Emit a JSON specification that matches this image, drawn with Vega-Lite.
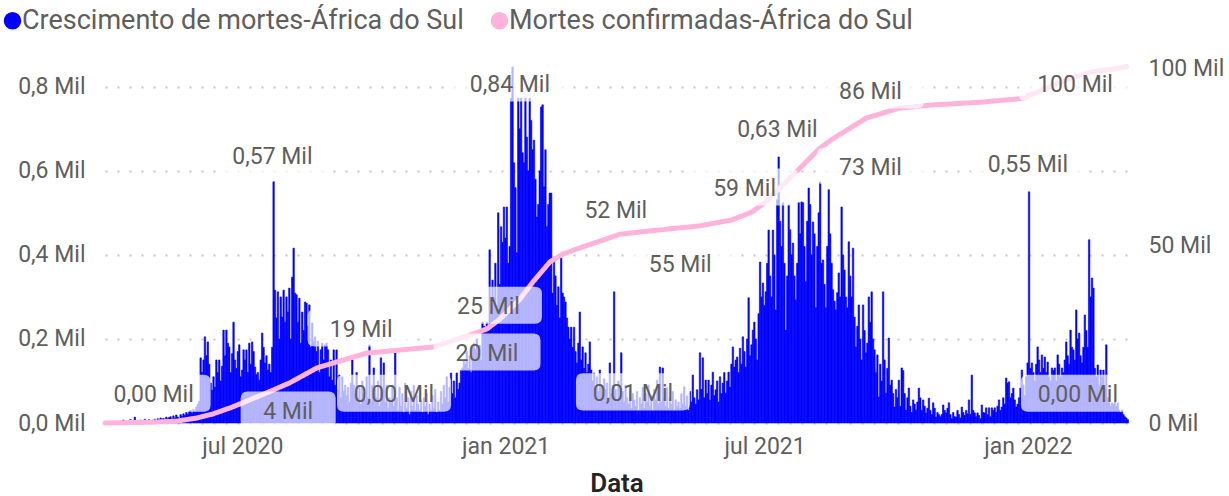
{
"$schema":"https://vega.github.io/schema/vega-lite/v6.json",
"width":1023,"height":356,
"autosize":{"type":"none"},
"padding":{"left":105,"top":67,"right":101,"bottom":73},
"background":"white",
"config":{"view":{"stroke":null},"font":"Roboto","axis":{"labelFont":"Roboto","titleFont":"Roboto"}},
"datasets":{
"daily":[
{"d":"2020-03-27","v":1,"c":1},{"d":"2020-03-28","v":0,"c":7},{"d":"2020-03-29","v":1,"c":13},{"d":"2020-03-30","v":2,"c":20},{"d":"2020-03-31","v":0,"c":27},
{"d":"2020-04-01","v":3,"c":33},{"d":"2020-04-02","v":2,"c":40},{"d":"2020-04-03","v":1,"c":47},{"d":"2020-04-04","v":4,"c":53},{"d":"2020-04-05","v":2,"c":60},{"d":"2020-04-06","v":5,"c":67},{"d":"2020-04-07","v":1,"c":73},{"d":"2020-04-08","v":7,"c":80},{"d":"2020-04-09","v":3,"c":87},{"d":"2020-04-10","v":4,"c":93},{"d":"2020-04-11","v":2,"c":100},{"d":"2020-04-12","v":6,"c":107},{"d":"2020-04-13","v":8,"c":113},{"d":"2020-04-14","v":3,"c":120},{"d":"2020-04-15","v":5,"c":127},{"d":"2020-04-16","v":14,"c":133},{"d":"2020-04-17","v":4,"c":140},{"d":"2020-04-18","v":2,"c":147},{"d":"2020-04-19","v":6,"c":153},{"d":"2020-04-20","v":7,"c":160},{"d":"2020-04-21","v":3,"c":167},{"d":"2020-04-22","v":5,"c":173},{"d":"2020-04-23","v":9,"c":180},{"d":"2020-04-24","v":4,"c":187},{"d":"2020-04-25","v":6,"c":193},{"d":"2020-04-26","v":8,"c":200},{"d":"2020-04-27","v":5,"c":215},{"d":"2020-04-28","v":3,"c":230},{"d":"2020-04-29","v":7,"c":245},{"d":"2020-04-30","v":9,"c":260},
{"d":"2020-05-01","v":6,"c":275},{"d":"2020-05-02","v":10,"c":290},{"d":"2020-05-03","v":8,"c":305},{"d":"2020-05-04","v":12,"c":320},{"d":"2020-05-05","v":9,"c":335},{"d":"2020-05-06","v":11,"c":350},{"d":"2020-05-07","v":7,"c":365},{"d":"2020-05-08","v":14,"c":380},{"d":"2020-05-09","v":10,"c":395},{"d":"2020-05-10","v":13,"c":410},{"d":"2020-05-11","v":15,"c":425},{"d":"2020-05-12","v":9,"c":440},{"d":"2020-05-13","v":17,"c":455},{"d":"2020-05-14","v":12,"c":470},{"d":"2020-05-15","v":19,"c":485},{"d":"2020-05-16","v":14,"c":500},{"d":"2020-05-17","v":11,"c":564},{"d":"2020-05-18","v":20,"c":629},{"d":"2020-05-19","v":16,"c":693},{"d":"2020-05-20","v":22,"c":757},{"d":"2020-05-21","v":18,"c":821},{"d":"2020-05-22","v":25,"c":886},{"d":"2020-05-23","v":21,"c":950},{"d":"2020-05-24","v":28,"c":1014},{"d":"2020-05-25","v":30,"c":1079},{"d":"2020-05-26","v":24,"c":1143},{"d":"2020-05-27","v":33,"c":1207},{"d":"2020-05-28","v":27,"c":1271},{"d":"2020-05-29","v":38,"c":1336},{"d":"2020-05-30","v":45,"c":1400},{"d":"2020-05-31","v":52,"c":1500},
{"d":"2020-06-01","v":155,"c":1600},{"d":"2020-06-02","v":120,"c":1700},{"d":"2020-06-03","v":150,"c":1800},{"d":"2020-06-04","v":205,"c":1900},{"d":"2020-06-05","v":160,"c":2000},{"d":"2020-06-06","v":193,"c":2100},{"d":"2020-06-07","v":140,"c":2200},{"d":"2020-06-08","v":95,"c":2300},{"d":"2020-06-09","v":78,"c":2400},{"d":"2020-06-10","v":110,"c":2500},{"d":"2020-06-11","v":85,"c":2643},{"d":"2020-06-12","v":150,"c":2786},{"d":"2020-06-13","v":120,"c":2929},{"d":"2020-06-14","v":150,"c":3071},{"d":"2020-06-15","v":100,"c":3214},{"d":"2020-06-16","v":135,"c":3357},{"d":"2020-06-17","v":221,"c":3500},{"d":"2020-06-18","v":160,"c":3643},{"d":"2020-06-19","v":221,"c":3786},{"d":"2020-06-20","v":190,"c":3929},{"d":"2020-06-21","v":181,"c":4071},{"d":"2020-06-22","v":120,"c":4214},{"d":"2020-06-23","v":165,"c":4357},{"d":"2020-06-24","v":240,"c":4500},{"d":"2020-06-25","v":150,"c":4667},{"d":"2020-06-26","v":130,"c":4833},{"d":"2020-06-27","v":170,"c":5000},{"d":"2020-06-28","v":186,"c":5167},{"d":"2020-06-29","v":110,"c":5333},{"d":"2020-06-30","v":126,"c":5500},
{"d":"2020-07-01","v":174,"c":5667},{"d":"2020-07-02","v":150,"c":5833},{"d":"2020-07-03","v":174,"c":6000},{"d":"2020-07-04","v":120,"c":6167},{"d":"2020-07-05","v":190,"c":6333},{"d":"2020-07-06","v":140,"c":6500},{"d":"2020-07-07","v":193,"c":6667},{"d":"2020-07-08","v":170,"c":6833},{"d":"2020-07-09","v":133,"c":7000},{"d":"2020-07-10","v":115,"c":7167},{"d":"2020-07-11","v":120,"c":7333},{"d":"2020-07-12","v":102,"c":7500},{"d":"2020-07-13","v":150,"c":7667},{"d":"2020-07-14","v":214,"c":7833},{"d":"2020-07-15","v":180,"c":8000},{"d":"2020-07-16","v":143,"c":8167},{"d":"2020-07-17","v":160,"c":8333},{"d":"2020-07-18","v":126,"c":8500},{"d":"2020-07-19","v":140,"c":8675},{"d":"2020-07-20","v":120,"c":8850},{"d":"2020-07-21","v":180,"c":9025},{"d":"2020-07-22","v":574,"c":9200},{"d":"2020-07-23","v":316,"c":9375},{"d":"2020-07-24","v":250,"c":9550},{"d":"2020-07-25","v":312,"c":9725},{"d":"2020-07-26","v":200,"c":9900},{"d":"2020-07-27","v":300,"c":10075},{"d":"2020-07-28","v":252,"c":10250},{"d":"2020-07-29","v":316,"c":10425},{"d":"2020-07-30","v":240,"c":10600},{"d":"2020-07-31","v":300,"c":10775},
{"d":"2020-08-01","v":264,"c":10950},{"d":"2020-08-02","v":321,"c":11125},{"d":"2020-08-03","v":200,"c":11300},{"d":"2020-08-04","v":347,"c":11521},{"d":"2020-08-05","v":416,"c":11742},{"d":"2020-08-06","v":309,"c":11963},{"d":"2020-08-07","v":305,"c":12184},{"d":"2020-08-08","v":240,"c":12405},{"d":"2020-08-09","v":297,"c":12626},{"d":"2020-08-10","v":190,"c":12847},{"d":"2020-08-11","v":264,"c":13068},{"d":"2020-08-12","v":220,"c":13289},{"d":"2020-08-13","v":288,"c":13511},{"d":"2020-08-14","v":285,"c":13732},{"d":"2020-08-15","v":230,"c":13953},{"d":"2020-08-16","v":281,"c":14174},{"d":"2020-08-17","v":180,"c":14395},{"d":"2020-08-18","v":238,"c":14616},{"d":"2020-08-19","v":193,"c":14837},{"d":"2020-08-20","v":205,"c":15058},{"d":"2020-08-21","v":170,"c":15279},{"d":"2020-08-22","v":195,"c":15500},{"d":"2020-08-23","v":120,"c":15621},{"d":"2020-08-24","v":174,"c":15743},{"d":"2020-08-25","v":190,"c":15864},{"d":"2020-08-26","v":150,"c":15986},{"d":"2020-08-27","v":186,"c":16107},{"d":"2020-08-28","v":190,"c":16229},{"d":"2020-08-29","v":174,"c":16350},{"d":"2020-08-30","v":110,"c":16471},{"d":"2020-08-31","v":150,"c":16593},
{"d":"2020-09-01","v":102,"c":16714},{"d":"2020-09-02","v":174,"c":16836},{"d":"2020-09-03","v":90,"c":16957},{"d":"2020-09-04","v":174,"c":17079},{"d":"2020-09-05","v":80,"c":17200},{"d":"2020-09-06","v":114,"c":17319},{"d":"2020-09-07","v":60,"c":17438},{"d":"2020-09-08","v":110,"c":17557},{"d":"2020-09-09","v":75,"c":17676},{"d":"2020-09-10","v":90,"c":17795},{"d":"2020-09-11","v":65,"c":17914},{"d":"2020-09-12","v":85,"c":18033},{"d":"2020-09-13","v":50,"c":18152},{"d":"2020-09-14","v":95,"c":18271},{"d":"2020-09-15","v":150,"c":18390},{"d":"2020-09-16","v":90,"c":18510},{"d":"2020-09-17","v":70,"c":18629},{"d":"2020-09-18","v":120,"c":18748},{"d":"2020-09-19","v":60,"c":18867},{"d":"2020-09-20","v":85,"c":18986},{"d":"2020-09-21","v":45,"c":19105},{"d":"2020-09-22","v":100,"c":19224},{"d":"2020-09-23","v":70,"c":19343},{"d":"2020-09-24","v":55,"c":19462},{"d":"2020-09-25","v":110,"c":19581},{"d":"2020-09-26","v":60,"c":19700},{"d":"2020-09-27","v":186,"c":19737},{"d":"2020-09-28","v":50,"c":19774},{"d":"2020-09-29","v":90,"c":19811},{"d":"2020-09-30","v":131,"c":19848},
{"d":"2020-10-01","v":80,"c":19885},{"d":"2020-10-02","v":60,"c":19922},{"d":"2020-10-03","v":100,"c":19959},{"d":"2020-10-04","v":40,"c":19996},{"d":"2020-10-05","v":155,"c":20033},{"d":"2020-10-06","v":70,"c":20070},{"d":"2020-10-07","v":143,"c":20107},{"d":"2020-10-08","v":50,"c":20144},{"d":"2020-10-09","v":90,"c":20181},{"d":"2020-10-10","v":35,"c":20218},{"d":"2020-10-11","v":60,"c":20255},{"d":"2020-10-12","v":50,"c":20292},{"d":"2020-10-13","v":90,"c":20329},{"d":"2020-10-14","v":40,"c":20366},{"d":"2020-10-15","v":167,"c":20403},{"d":"2020-10-16","v":60,"c":20440},{"d":"2020-10-17","v":30,"c":20477},{"d":"2020-10-18","v":85,"c":20514},{"d":"2020-10-19","v":40,"c":20551},{"d":"2020-10-20","v":70,"c":20588},{"d":"2020-10-21","v":25,"c":20625},{"d":"2020-10-22","v":95,"c":20662},{"d":"2020-10-23","v":35,"c":20699},{"d":"2020-10-24","v":60,"c":20736},{"d":"2020-10-25","v":20,"c":20773},{"d":"2020-10-26","v":75,"c":20810},{"d":"2020-10-27","v":40,"c":20847},{"d":"2020-10-28","v":90,"c":20884},{"d":"2020-10-29","v":30,"c":20921},{"d":"2020-10-30","v":65,"c":20958},{"d":"2020-10-31","v":45,"c":20995},
{"d":"2020-11-01","v":30,"c":21032},{"d":"2020-11-02","v":55,"c":21069},{"d":"2020-11-03","v":25,"c":21106},{"d":"2020-11-04","v":60,"c":21143},{"d":"2020-11-05","v":40,"c":21180},{"d":"2020-11-06","v":70,"c":21217},{"d":"2020-11-07","v":20,"c":21254},{"d":"2020-11-08","v":45,"c":21291},{"d":"2020-11-09","v":30,"c":21328},{"d":"2020-11-10","v":65,"c":21365},{"d":"2020-11-11","v":35,"c":21400},{"d":"2020-11-12","v":80,"c":21529},{"d":"2020-11-13","v":25,"c":21658},{"d":"2020-11-14","v":50,"c":21788},{"d":"2020-11-15","v":30,"c":21917},{"d":"2020-11-16","v":75,"c":22046},{"d":"2020-11-17","v":45,"c":22175},{"d":"2020-11-18","v":90,"c":22304},{"d":"2020-11-19","v":60,"c":22433},{"d":"2020-11-20","v":110,"c":22563},{"d":"2020-11-21","v":50,"c":22692},{"d":"2020-11-22","v":85,"c":22821},{"d":"2020-11-23","v":119,"c":22950},{"d":"2020-11-24","v":70,"c":23079},{"d":"2020-11-25","v":100,"c":23208},{"d":"2020-11-26","v":60,"c":23338},{"d":"2020-11-27","v":119,"c":23467},{"d":"2020-11-28","v":80,"c":23596},{"d":"2020-11-29","v":95,"c":23725},{"d":"2020-11-30","v":126,"c":23854},
{"d":"2020-12-01","v":131,"c":23983},{"d":"2020-12-02","v":150,"c":24113},{"d":"2020-12-03","v":140,"c":24242},{"d":"2020-12-04","v":170,"c":24371},{"d":"2020-12-05","v":130,"c":24500},{"d":"2020-12-06","v":160,"c":24643},{"d":"2020-12-07","v":120,"c":24786},{"d":"2020-12-08","v":180,"c":24929},{"d":"2020-12-09","v":190,"c":25071},{"d":"2020-12-10","v":175,"c":25214},{"d":"2020-12-11","v":200,"c":25357},{"d":"2020-12-12","v":165,"c":25500},{"d":"2020-12-13","v":185,"c":25643},{"d":"2020-12-14","v":150,"c":25786},{"d":"2020-12-15","v":240,"c":25929},{"d":"2020-12-16","v":230,"c":26071},{"d":"2020-12-17","v":215,"c":26214},{"d":"2020-12-18","v":240,"c":26357},{"d":"2020-12-19","v":220,"c":26500},{"d":"2020-12-20","v":412,"c":26811},{"d":"2020-12-21","v":260,"c":27122},{"d":"2020-12-22","v":340,"c":27433},{"d":"2020-12-23","v":300,"c":27744},{"d":"2020-12-24","v":380,"c":28056},{"d":"2020-12-25","v":280,"c":28367},{"d":"2020-12-26","v":500,"c":28678},{"d":"2020-12-27","v":330,"c":28989},{"d":"2020-12-28","v":467,"c":29300},{"d":"2020-12-29","v":430,"c":29700},{"d":"2020-12-30","v":514,"c":30100},{"d":"2020-12-31","v":440,"c":30500},
{"d":"2021-01-01","v":514,"c":30900},{"d":"2021-01-02","v":380,"c":31300},{"d":"2021-01-03","v":420,"c":31700},{"d":"2021-01-04","v":773,"c":32100},{"d":"2021-01-05","v":847,"c":32500},{"d":"2021-01-06","v":619,"c":32900},{"d":"2021-01-07","v":560,"c":33300},{"d":"2021-01-08","v":405,"c":33700},{"d":"2021-01-09","v":773,"c":34100},{"d":"2021-01-10","v":700,"c":34500},{"d":"2021-01-11","v":773,"c":34900},{"d":"2021-01-12","v":643,"c":35433},{"d":"2021-01-13","v":619,"c":35967},{"d":"2021-01-14","v":773,"c":36500},{"d":"2021-01-15","v":680,"c":37033},{"d":"2021-01-16","v":600,"c":37567},{"d":"2021-01-17","v":773,"c":38100},{"d":"2021-01-18","v":720,"c":38633},{"d":"2021-01-19","v":650,"c":39167},{"d":"2021-01-20","v":673,"c":39700},{"d":"2021-01-21","v":580,"c":40175},{"d":"2021-01-22","v":490,"c":40650},{"d":"2021-01-23","v":520,"c":41125},{"d":"2021-01-24","v":600,"c":41600},{"d":"2021-01-25","v":752,"c":42075},{"d":"2021-01-26","v":757,"c":42550},{"d":"2021-01-27","v":562,"c":43025},{"d":"2021-01-28","v":650,"c":43500},{"d":"2021-01-29","v":467,"c":43975},{"d":"2021-01-30","v":520,"c":44450},{"d":"2021-01-31","v":547,"c":44925},
{"d":"2021-02-01","v":547,"c":45400},{"d":"2021-02-02","v":309,"c":45644},{"d":"2021-02-03","v":395,"c":45889},{"d":"2021-02-04","v":350,"c":46133},{"d":"2021-02-05","v":280,"c":46378},{"d":"2021-02-06","v":324,"c":46622},{"d":"2021-02-07","v":250,"c":46867},{"d":"2021-02-08","v":393,"c":47111},{"d":"2021-02-09","v":309,"c":47356},{"d":"2021-02-10","v":300,"c":47600},{"d":"2021-02-11","v":288,"c":47744},{"d":"2021-02-12","v":250,"c":47888},{"d":"2021-02-13","v":228,"c":48031},{"d":"2021-02-14","v":200,"c":48175},{"d":"2021-02-15","v":228,"c":48319},{"d":"2021-02-16","v":180,"c":48463},{"d":"2021-02-17","v":228,"c":48606},{"d":"2021-02-18","v":170,"c":48750},{"d":"2021-02-19","v":143,"c":48894},{"d":"2021-02-20","v":190,"c":49038},{"d":"2021-02-21","v":264,"c":49181},{"d":"2021-02-22","v":150,"c":49325},{"d":"2021-02-23","v":181,"c":49469},{"d":"2021-02-24","v":130,"c":49613},{"d":"2021-02-25","v":167,"c":49756},{"d":"2021-02-26","v":120,"c":49900},{"d":"2021-02-27","v":140,"c":50038},{"d":"2021-02-28","v":193,"c":50175},
{"d":"2021-03-01","v":126,"c":50313},{"d":"2021-03-02","v":100,"c":50450},{"d":"2021-03-03","v":119,"c":50588},{"d":"2021-03-04","v":85,"c":50725},{"d":"2021-03-05","v":110,"c":50863},{"d":"2021-03-06","v":75,"c":51000},{"d":"2021-03-07","v":126,"c":51138},{"d":"2021-03-08","v":90,"c":51275},{"d":"2021-03-09","v":71,"c":51413},{"d":"2021-03-10","v":105,"c":51550},{"d":"2021-03-11","v":80,"c":51688},{"d":"2021-03-12","v":95,"c":51825},{"d":"2021-03-13","v":60,"c":51963},{"d":"2021-03-14","v":143,"c":52100},{"d":"2021-03-15","v":70,"c":52238},{"d":"2021-03-16","v":90,"c":52375},{"d":"2021-03-17","v":312,"c":52513},{"d":"2021-03-18","v":80,"c":52650},{"d":"2021-03-19","v":55,"c":52788},{"d":"2021-03-20","v":100,"c":52925},{"d":"2021-03-21","v":65,"c":53063},{"d":"2021-03-22","v":167,"c":53200},{"d":"2021-03-23","v":75,"c":53244},{"d":"2021-03-24","v":50,"c":53288},{"d":"2021-03-25","v":90,"c":53331},{"d":"2021-03-26","v":60,"c":53375},{"d":"2021-03-27","v":45,"c":53419},{"d":"2021-03-28","v":80,"c":53463},{"d":"2021-03-29","v":35,"c":53506},{"d":"2021-03-30","v":70,"c":53550},{"d":"2021-03-31","v":55,"c":53594},
{"d":"2021-04-01","v":40,"c":53638},{"d":"2021-04-02","v":75,"c":53681},{"d":"2021-04-03","v":30,"c":53725},{"d":"2021-04-04","v":60,"c":53769},{"d":"2021-04-05","v":45,"c":53813},{"d":"2021-04-06","v":85,"c":53856},{"d":"2021-04-07","v":35,"c":53900},{"d":"2021-04-08","v":70,"c":53944},{"d":"2021-04-09","v":50,"c":53988},{"d":"2021-04-10","v":90,"c":54031},{"d":"2021-04-11","v":40,"c":54075},{"d":"2021-04-12","v":65,"c":54119},{"d":"2021-04-13","v":30,"c":54163},{"d":"2021-04-14","v":80,"c":54206},{"d":"2021-04-15","v":55,"c":54250},{"d":"2021-04-16","v":102,"c":54294},{"d":"2021-04-17","v":45,"c":54338},{"d":"2021-04-18","v":133,"c":54381},{"d":"2021-04-19","v":50,"c":54425},{"d":"2021-04-20","v":131,"c":54469},{"d":"2021-04-21","v":60,"c":54513},{"d":"2021-04-22","v":40,"c":54556},{"d":"2021-04-23","v":85,"c":54600},{"d":"2021-04-24","v":35,"c":54639},{"d":"2021-04-25","v":60,"c":54678},{"d":"2021-04-26","v":45,"c":54717},{"d":"2021-04-27","v":75,"c":54757},{"d":"2021-04-28","v":30,"c":54796},{"d":"2021-04-29","v":55,"c":54835},{"d":"2021-04-30","v":40,"c":54874},
{"d":"2021-05-01","v":50,"c":54913},{"d":"2021-05-02","v":35,"c":54952},{"d":"2021-05-03","v":70,"c":54991},{"d":"2021-05-04","v":45,"c":55030},{"d":"2021-05-05","v":86,"c":55070},{"d":"2021-05-06","v":40,"c":55109},{"d":"2021-05-07","v":65,"c":55148},{"d":"2021-05-08","v":30,"c":55187},{"d":"2021-05-09","v":75,"c":55226},{"d":"2021-05-10","v":50,"c":55265},{"d":"2021-05-11","v":114,"c":55304},{"d":"2021-05-12","v":60,"c":55343},{"d":"2021-05-13","v":45,"c":55383},{"d":"2021-05-14","v":79,"c":55422},{"d":"2021-05-15","v":55,"c":55461},{"d":"2021-05-16","v":167,"c":55500},{"d":"2021-05-17","v":80,"c":55574},{"d":"2021-05-18","v":155,"c":55648},{"d":"2021-05-19","v":60,"c":55722},{"d":"2021-05-20","v":102,"c":55796},{"d":"2021-05-21","v":70,"c":55870},{"d":"2021-05-22","v":102,"c":55943},{"d":"2021-05-23","v":55,"c":56017},{"d":"2021-05-24","v":90,"c":56091},{"d":"2021-05-25","v":121,"c":56165},{"d":"2021-05-26","v":65,"c":56239},{"d":"2021-05-27","v":79,"c":56313},{"d":"2021-05-28","v":100,"c":56387},{"d":"2021-05-29","v":50,"c":56461},{"d":"2021-05-30","v":110,"c":56535},{"d":"2021-05-31","v":70,"c":56609},
{"d":"2021-06-01","v":95,"c":56683},{"d":"2021-06-02","v":120,"c":56757},{"d":"2021-06-03","v":71,"c":56830},{"d":"2021-06-04","v":100,"c":56904},{"d":"2021-06-05","v":121,"c":56978},{"d":"2021-06-06","v":85,"c":57052},{"d":"2021-06-07","v":140,"c":57126},{"d":"2021-06-08","v":181,"c":57200},{"d":"2021-06-09","v":133,"c":57357},{"d":"2021-06-10","v":150,"c":57514},{"d":"2021-06-11","v":157,"c":57671},{"d":"2021-06-12","v":120,"c":57829},{"d":"2021-06-13","v":178,"c":57986},{"d":"2021-06-14","v":140,"c":58143},{"d":"2021-06-15","v":205,"c":58300},{"d":"2021-06-16","v":170,"c":58457},{"d":"2021-06-17","v":133,"c":58614},{"d":"2021-06-18","v":200,"c":58771},{"d":"2021-06-19","v":298,"c":58929},{"d":"2021-06-20","v":160,"c":59086},{"d":"2021-06-21","v":186,"c":59243},{"d":"2021-06-22","v":221,"c":59400},{"d":"2021-06-23","v":240,"c":59690},{"d":"2021-06-24","v":200,"c":59980},{"d":"2021-06-25","v":150,"c":60270},{"d":"2021-06-26","v":260,"c":60560},{"d":"2021-06-27","v":383,"c":60850},{"d":"2021-06-28","v":300,"c":61140},{"d":"2021-06-29","v":333,"c":61430},{"d":"2021-06-30","v":280,"c":61720},
{"d":"2021-07-01","v":312,"c":62010},{"d":"2021-07-02","v":380,"c":62300},{"d":"2021-07-03","v":459,"c":62709},{"d":"2021-07-04","v":350,"c":63118},{"d":"2021-07-05","v":300,"c":63527},{"d":"2021-07-06","v":459,"c":63936},{"d":"2021-07-07","v":400,"c":64345},{"d":"2021-07-08","v":269,"c":64755},{"d":"2021-07-09","v":531,"c":65164},{"d":"2021-07-10","v":633,"c":65573},{"d":"2021-07-11","v":480,"c":65982},{"d":"2021-07-12","v":420,"c":66391},{"d":"2021-07-13","v":524,"c":66800},{"d":"2021-07-14","v":380,"c":67192},{"d":"2021-07-15","v":221,"c":67583},{"d":"2021-07-16","v":350,"c":67975},{"d":"2021-07-17","v":519,"c":68367},{"d":"2021-07-18","v":460,"c":68758},{"d":"2021-07-19","v":400,"c":69150},{"d":"2021-07-20","v":428,"c":69542},{"d":"2021-07-21","v":350,"c":69933},{"d":"2021-07-22","v":293,"c":70325},{"d":"2021-07-23","v":380,"c":70717},{"d":"2021-07-24","v":524,"c":71108},{"d":"2021-07-25","v":450,"c":71500},{"d":"2021-07-26","v":526,"c":71907},{"d":"2021-07-27","v":524,"c":72314},{"d":"2021-07-28","v":420,"c":72721},{"d":"2021-07-29","v":336,"c":73129},{"d":"2021-07-30","v":480,"c":73536},{"d":"2021-07-31","v":559,"c":73943},
{"d":"2021-08-01","v":520,"c":74350},{"d":"2021-08-02","v":400,"c":74757},{"d":"2021-08-03","v":478,"c":75164},{"d":"2021-08-04","v":450,"c":75571},{"d":"2021-08-05","v":274,"c":75979},{"d":"2021-08-06","v":420,"c":76386},{"d":"2021-08-07","v":500,"c":76793},{"d":"2021-08-08","v":574,"c":77200},{"d":"2021-08-09","v":380,"c":77500},{"d":"2021-08-10","v":388,"c":77800},{"d":"2021-08-11","v":330,"c":78100},{"d":"2021-08-12","v":274,"c":78400},{"d":"2021-08-13","v":420,"c":78700},{"d":"2021-08-14","v":555,"c":79000},{"d":"2021-08-15","v":450,"c":79300},{"d":"2021-08-16","v":380,"c":79600},{"d":"2021-08-17","v":317,"c":79900},{"d":"2021-08-18","v":290,"c":80150},{"d":"2021-08-19","v":269,"c":80400},{"d":"2021-08-20","v":310,"c":80650},{"d":"2021-08-21","v":357,"c":80900},{"d":"2021-08-22","v":300,"c":81150},{"d":"2021-08-23","v":514,"c":81400},{"d":"2021-08-24","v":400,"c":81650},{"d":"2021-08-25","v":364,"c":81900},{"d":"2021-08-26","v":300,"c":82150},{"d":"2021-08-27","v":274,"c":82400},{"d":"2021-08-28","v":431,"c":82650},{"d":"2021-08-29","v":350,"c":82900},{"d":"2021-08-30","v":300,"c":83150},{"d":"2021-08-31","v":416,"c":83400},
{"d":"2021-09-01","v":252,"c":83650},{"d":"2021-09-02","v":181,"c":83900},{"d":"2021-09-03","v":230,"c":84150},{"d":"2021-09-04","v":281,"c":84400},{"d":"2021-09-05","v":200,"c":84650},{"d":"2021-09-06","v":150,"c":84900},{"d":"2021-09-07","v":281,"c":85150},{"d":"2021-09-08","v":220,"c":85400},{"d":"2021-09-09","v":167,"c":85650},{"d":"2021-09-10","v":190,"c":85900},{"d":"2021-09-11","v":300,"c":86022},{"d":"2021-09-12","v":240,"c":86143},{"d":"2021-09-13","v":312,"c":86265},{"d":"2021-09-14","v":200,"c":86387},{"d":"2021-09-15","v":174,"c":86509},{"d":"2021-09-16","v":120,"c":86630},{"d":"2021-09-17","v":162,"c":86752},{"d":"2021-09-18","v":62,"c":86874},{"d":"2021-09-19","v":140,"c":86996},{"d":"2021-09-20","v":100,"c":87117},{"d":"2021-09-21","v":312,"c":87239},{"d":"2021-09-22","v":150,"c":87361},{"d":"2021-09-23","v":71,"c":87483},{"d":"2021-09-24","v":130,"c":87604},{"d":"2021-09-25","v":202,"c":87726},{"d":"2021-09-26","v":90,"c":87848},{"d":"2021-09-27","v":102,"c":87970},{"d":"2021-09-28","v":70,"c":88091},{"d":"2021-09-29","v":38,"c":88213},{"d":"2021-09-30","v":80,"c":88335},
{"d":"2021-10-01","v":60,"c":88457},{"d":"2021-10-02","v":102,"c":88578},{"d":"2021-10-03","v":40,"c":88700},{"d":"2021-10-04","v":131,"c":88739},{"d":"2021-10-05","v":125,"c":88778},{"d":"2021-10-06","v":70,"c":88817},{"d":"2021-10-07","v":31,"c":88857},{"d":"2021-10-08","v":60,"c":88896},{"d":"2021-10-09","v":83,"c":88935},{"d":"2021-10-10","v":40,"c":88974},{"d":"2021-10-11","v":25,"c":89013},{"d":"2021-10-12","v":55,"c":89052},{"d":"2021-10-13","v":45,"c":89091},{"d":"2021-10-14","v":31,"c":89130},{"d":"2021-10-15","v":50,"c":89170},{"d":"2021-10-16","v":83,"c":89209},{"d":"2021-10-17","v":60,"c":89248},{"d":"2021-10-18","v":30,"c":89287},{"d":"2021-10-19","v":55,"c":89326},{"d":"2021-10-20","v":40,"c":89365},{"d":"2021-10-21","v":24,"c":89404},{"d":"2021-10-22","v":35,"c":89443},{"d":"2021-10-23","v":59,"c":89483},{"d":"2021-10-24","v":30,"c":89522},{"d":"2021-10-25","v":20,"c":89561},{"d":"2021-10-26","v":48,"c":89600},{"d":"2021-10-27","v":35,"c":89623},{"d":"2021-10-28","v":14,"c":89646},{"d":"2021-10-29","v":25,"c":89669},{"d":"2021-10-30","v":20,"c":89691},{"d":"2021-10-31","v":15,"c":89714},
{"d":"2021-11-01","v":20,"c":89737},{"d":"2021-11-02","v":43,"c":89760},{"d":"2021-11-03","v":30,"c":89783},{"d":"2021-11-04","v":24,"c":89806},{"d":"2021-11-05","v":35,"c":89829},{"d":"2021-11-06","v":48,"c":89851},{"d":"2021-11-07","v":20,"c":89874},{"d":"2021-11-08","v":10,"c":89897},{"d":"2021-11-09","v":25,"c":89920},{"d":"2021-11-10","v":15,"c":89943},{"d":"2021-11-11","v":14,"c":89966},{"d":"2021-11-12","v":30,"c":89989},{"d":"2021-11-13","v":20,"c":90011},{"d":"2021-11-14","v":12,"c":90034},{"d":"2021-11-15","v":38,"c":90057},{"d":"2021-11-16","v":25,"c":90080},{"d":"2021-11-17","v":18,"c":90103},{"d":"2021-11-18","v":30,"c":90126},{"d":"2021-11-19","v":22,"c":90149},{"d":"2021-11-20","v":55,"c":90171},{"d":"2021-11-21","v":20,"c":90194},{"d":"2021-11-22","v":114,"c":90217},{"d":"2021-11-23","v":30,"c":90240},{"d":"2021-11-24","v":24,"c":90263},{"d":"2021-11-25","v":15,"c":90286},{"d":"2021-11-26","v":24,"c":90309},{"d":"2021-11-27","v":18,"c":90331},{"d":"2021-11-28","v":10,"c":90354},{"d":"2021-11-29","v":43,"c":90377},{"d":"2021-11-30","v":25,"c":90400},
{"d":"2021-12-01","v":24,"c":90437},{"d":"2021-12-02","v":36,"c":90473},{"d":"2021-12-03","v":20,"c":90510},{"d":"2021-12-04","v":36,"c":90547},{"d":"2021-12-05","v":15,"c":90583},{"d":"2021-12-06","v":36,"c":90620},{"d":"2021-12-07","v":30,"c":90657},{"d":"2021-12-08","v":36,"c":90693},{"d":"2021-12-09","v":25,"c":90730},{"d":"2021-12-10","v":40,"c":90767},{"d":"2021-12-11","v":55,"c":90803},{"d":"2021-12-12","v":30,"c":90840},{"d":"2021-12-13","v":38,"c":90877},{"d":"2021-12-14","v":60,"c":90913},{"d":"2021-12-15","v":45,"c":90950},{"d":"2021-12-16","v":107,"c":90987},{"d":"2021-12-17","v":95,"c":91023},{"d":"2021-12-18","v":98,"c":91060},{"d":"2021-12-19","v":60,"c":91097},{"d":"2021-12-20","v":70,"c":91133},{"d":"2021-12-21","v":83,"c":91170},{"d":"2021-12-22","v":55,"c":91207},{"d":"2021-12-23","v":38,"c":91243},{"d":"2021-12-24","v":45,"c":91280},{"d":"2021-12-25","v":60,"c":91317},{"d":"2021-12-26","v":83,"c":91353},{"d":"2021-12-27","v":126,"c":91390},{"d":"2021-12-28","v":90,"c":91427},{"d":"2021-12-29","v":65,"c":91463},{"d":"2021-12-30","v":110,"c":91500},{"d":"2021-12-31","v":143,"c":91689},
{"d":"2022-01-01","v":550,"c":92239},{"d":"2022-01-02","v":130,"c":92376},{"d":"2022-01-03","v":143,"c":92513},{"d":"2022-01-04","v":120,"c":92651},{"d":"2022-01-05","v":100,"c":92788},{"d":"2022-01-06","v":140,"c":92925},{"d":"2022-01-07","v":181,"c":93063},{"d":"2022-01-08","v":150,"c":93200},{"d":"2022-01-09","v":120,"c":93379},{"d":"2022-01-10","v":162,"c":93558},{"d":"2022-01-11","v":130,"c":93737},{"d":"2022-01-12","v":157,"c":93916},{"d":"2022-01-13","v":120,"c":94095},{"d":"2022-01-14","v":145,"c":94274},{"d":"2022-01-15","v":110,"c":94453},{"d":"2022-01-16","v":100,"c":94632},{"d":"2022-01-17","v":131,"c":94811},{"d":"2022-01-18","v":125,"c":94989},{"d":"2022-01-19","v":131,"c":95168},{"d":"2022-01-20","v":100,"c":95347},{"d":"2022-01-21","v":162,"c":95526},{"d":"2022-01-22","v":140,"c":95705},{"d":"2022-01-23","v":110,"c":95884},{"d":"2022-01-24","v":131,"c":96063},{"d":"2022-01-25","v":120,"c":96242},{"d":"2022-01-26","v":150,"c":96421},{"d":"2022-01-27","v":193,"c":96600},{"d":"2022-01-28","v":160,"c":96728},{"d":"2022-01-29","v":140,"c":96856},{"d":"2022-01-30","v":221,"c":96983},{"d":"2022-01-31","v":180,"c":97111},
{"d":"2022-02-01","v":174,"c":97239},{"d":"2022-02-02","v":150,"c":97367},{"d":"2022-02-03","v":269,"c":97494},{"d":"2022-02-04","v":200,"c":97622},{"d":"2022-02-05","v":214,"c":97750},{"d":"2022-02-06","v":160,"c":97878},{"d":"2022-02-07","v":143,"c":98006},{"d":"2022-02-08","v":180,"c":98133},{"d":"2022-02-09","v":257,"c":98261},{"d":"2022-02-10","v":220,"c":98389},{"d":"2022-02-11","v":180,"c":98517},{"d":"2022-02-12","v":436,"c":98644},{"d":"2022-02-13","v":300,"c":98772},{"d":"2022-02-14","v":345,"c":98900},{"d":"2022-02-15","v":321,"c":98956},{"d":"2022-02-16","v":130,"c":99012},{"d":"2022-02-17","v":110,"c":99068},{"d":"2022-02-18","v":138,"c":99124},{"d":"2022-02-19","v":90,"c":99180},{"d":"2022-02-20","v":126,"c":99236},{"d":"2022-02-21","v":110,"c":99292},{"d":"2022-02-22","v":126,"c":99348},{"d":"2022-02-23","v":80,"c":99404},{"d":"2022-02-24","v":186,"c":99460},{"d":"2022-02-25","v":60,"c":99516},{"d":"2022-02-26","v":48,"c":99572},{"d":"2022-02-27","v":40,"c":99628},{"d":"2022-02-28","v":48,"c":99684},
{"d":"2022-03-01","v":45,"c":99740},{"d":"2022-03-02","v":50,"c":99796},{"d":"2022-03-03","v":40,"c":99852},{"d":"2022-03-04","v":48,"c":99908},{"d":"2022-03-05","v":31,"c":99964},{"d":"2022-03-06","v":25,"c":100020},{"d":"2022-03-07","v":31,"c":100076},{"d":"2022-03-08","v":20,"c":100132},{"d":"2022-03-09","v":15,"c":100188},{"d":"2022-03-10","v":12,"c":100244},{"d":"2022-03-11","v":8,"c":100300}
],
"barLabels":[
{"d":"2020-04-30","y":71,"t":"0,00 Mil"},
{"d":"2020-07-22","y":638,"t":"0,57 Mil"},
{"d":"2020-10-15","y":71,"t":"0,00 Mil"},
{"d":"2021-01-04","y":809,"t":"0,84 Mil"},
{"d":"2021-03-31","y":74,"t":"0,01 Mil"},
{"d":"2021-07-10","y":702,"t":"0,63 Mil"},
{"d":"2022-01-01","y":619,"t":"0,55 Mil"},
{"d":"2022-02-05","y":71,"t":"0,00 Mil"}
],
"lineLabels":[
{"d":"2020-08-02","y":3660,"t":"4 Mil"},
{"d":"2020-09-22","y":26800,"t":"19 Mil"},
{"d":"2020-12-19","y":20000,"t":"20 Mil"},
{"d":"2020-12-20","y":33200,"t":"25 Mil"},
{"d":"2021-03-19","y":60300,"t":"52 Mil"},
{"d":"2021-05-03","y":45100,"t":"55 Mil"},
{"d":"2021-06-17","y":66500,"t":"59 Mil"},
{"d":"2021-09-13","y":72400,"t":"73 Mil"},
{"d":"2021-09-13","y":93800,"t":"86 Mil"},
{"d":"2022-02-03","y":95800,"t":"100 Mil"}
]
},
"layer":[
{"layer":[
{"data":{"name":"daily"},
"mark":{"type":"bar","binSpacing":0,"stroke":"#0000FF","strokeWidth":0.6},
"encoding":{
"x":{"field":"d","timeUnit":"utcyearmonthdate","type":"temporal",
"scale":{"type":"utc","domain":[{"year":2020,"month":3,"date":27,"utc":true},{"year":2022,"month":3,"date":12,"utc":true}]},
"axis":{"title":"Data","tickCount":{"interval":"month","step":6},"labelExpr":"lower(utcFormat(datum.value, '%b %Y'))","grid":false,"domain":false,"ticks":false,"labelPadding":12,"labelFontSize":23,"labelColor":"#605E5C","titleFontSize":26,"titleFontWeight":600,"titleColor":"#252423","titlePadding":12,"labelFlush":false,"labelOverlap":false}},
"y":{"field":"v","type":"quantitative","title":null,
"scale":{"domain":[0,847],"nice":false},
"axis":{"title":null,"values":[0,200,400,600,800],"labelExpr":"replace(format(datum.value/1000, '.1f'), '.', ',') + ' Mil'","grid":true,"gridDash":[2,10],"gridColor":"#C8C6C4","gridWidth":2,"domain":false,"ticks":false,"labelPadding":20,"labelFontSize":23,"labelColor":"#605E5C"}},
"color":{"datum":"Crescimento de mortes-África do Sul","type":"nominal",
"scale":{"domain":["Crescimento de mortes-África do Sul","Mortes confirmadas-África do Sul"],"range":["#0000FF","#FFB3DA"]},
"legend":{"title":null,"orient":"none","legendX":-106,"legendY":-60,"direction":"horizontal","symbolType":"circle","symbolSize":256,"labelFontSize":27,"labelColor":"#605E5C","labelFont":"Roboto","columnPadding":22,"labelOffset":-4,"labelLimit":1000,"padding":0,
"encode":{"symbols":{"update":{"fill":{"scale":"color","field":"value"},"fillOpacity":{"value":1},"stroke":{"value":"transparent"},"strokeWidth":{"value":0}}}}}}
}},
{"data":{"name":"barLabels"},
"mark":{"type":"point","filled":true,"fill":"white","opacity":0.7,"strokeWidth":0,"size":16900},
"encoding":{
"x":{"field":"d","type":"temporal"},
"y":{"field":"y","type":"quantitative","title":null},
"shape":{"condition":[
{"test":"length(datum.t)==5","value":"M-0.623,-0.285L0.623,-0.285Q0.731,-0.285 0.731,-0.177L0.731,0.177Q0.731,0.285 0.623,0.285L-0.623,0.285Q-0.731,0.285 -0.731,0.177L-0.731,-0.177Q-0.731,-0.285 -0.623,-0.285Z"},
{"test":"length(datum.t)==6","value":"M-0.715,-0.285L0.715,-0.285Q0.823,-0.285 0.823,-0.177L0.823,0.177Q0.823,0.285 0.715,0.285L-0.715,0.285Q-0.823,0.285 -0.823,0.177L-0.823,-0.177Q-0.823,-0.285 -0.715,-0.285Z"},
{"test":"length(datum.t)==7","value":"M-0.754,-0.285L0.754,-0.285Q0.862,-0.285 0.862,-0.177L0.862,0.177Q0.862,0.285 0.754,0.285L-0.754,0.285Q-0.862,0.285 -0.862,0.177L-0.862,-0.177Q-0.862,-0.285 -0.754,-0.285Z"}],
"value":"M-0.769,-0.285L0.769,-0.285Q0.877,-0.285 0.877,-0.177L0.877,0.177Q0.877,0.285 0.769,0.285L-0.769,0.285Q-0.877,0.285 -0.877,0.177L-0.877,-0.177Q-0.877,-0.285 -0.769,-0.285Z"}
}},
{"data":{"name":"barLabels"},
"mark":{"type":"text","fontSize":23,"color":"#605E5C","font":"Roboto","align":"center","baseline":"middle","dy":2},
"encoding":{
"x":{"field":"d","type":"temporal"},
"y":{"field":"y","type":"quantitative","title":null},
"text":{"field":"t"}
}}
]},
{"layer":[
{"data":{"name":"daily"},
"mark":{"type":"line","strokeWidth":5,"strokeCap":"round","strokeJoin":"round","interpolate":"monotone"},
"encoding":{
"x":{"field":"d","type":"temporal"},
"y":{"field":"c","type":"quantitative","title":null,
"scale":{"domain":[0,100300],"nice":false},
"axis":{"orient":"right","title":null,"values":[0,50000,100000],"labelExpr":"format(datum.value/1000, 'd') + ' Mil'","grid":false,"domain":false,"ticks":false,"labelPadding":20,"labelFontSize":23,"labelColor":"#605E5C"}},
"color":{"datum":"Mortes confirmadas-África do Sul","type":"nominal"}
}},
{"data":{"name":"lineLabels"},
"mark":{"type":"point","filled":true,"fill":"white","opacity":0.7,"strokeWidth":0,"size":16900},
"encoding":{
"x":{"field":"d","type":"temporal"},
"y":{"field":"y","type":"quantitative","title":null},
"shape":{"condition":[
{"test":"length(datum.t)==5","value":"M-0.623,-0.285L0.623,-0.285Q0.731,-0.285 0.731,-0.177L0.731,0.177Q0.731,0.285 0.623,0.285L-0.623,0.285Q-0.731,0.285 -0.731,0.177L-0.731,-0.177Q-0.731,-0.285 -0.623,-0.285Z"},
{"test":"length(datum.t)==6","value":"M-0.715,-0.285L0.715,-0.285Q0.823,-0.285 0.823,-0.177L0.823,0.177Q0.823,0.285 0.715,0.285L-0.715,0.285Q-0.823,0.285 -0.823,0.177L-0.823,-0.177Q-0.823,-0.285 -0.715,-0.285Z"},
{"test":"length(datum.t)==7","value":"M-0.754,-0.285L0.754,-0.285Q0.862,-0.285 0.862,-0.177L0.862,0.177Q0.862,0.285 0.754,0.285L-0.754,0.285Q-0.862,0.285 -0.862,0.177L-0.862,-0.177Q-0.862,-0.285 -0.754,-0.285Z"}],
"value":"M-0.769,-0.285L0.769,-0.285Q0.877,-0.285 0.877,-0.177L0.877,0.177Q0.877,0.285 0.769,0.285L-0.769,0.285Q-0.877,0.285 -0.877,0.177L-0.877,-0.177Q-0.877,-0.285 -0.769,-0.285Z"}
}},
{"data":{"name":"lineLabels"},
"mark":{"type":"text","fontSize":23,"color":"#605E5C","font":"Roboto","align":"center","baseline":"middle","dy":2},
"encoding":{
"x":{"field":"d","type":"temporal"},
"y":{"field":"y","type":"quantitative","title":null},
"text":{"field":"t"}
}}
]}
],
"resolve":{"scale":{"y":"independent"}}
}
